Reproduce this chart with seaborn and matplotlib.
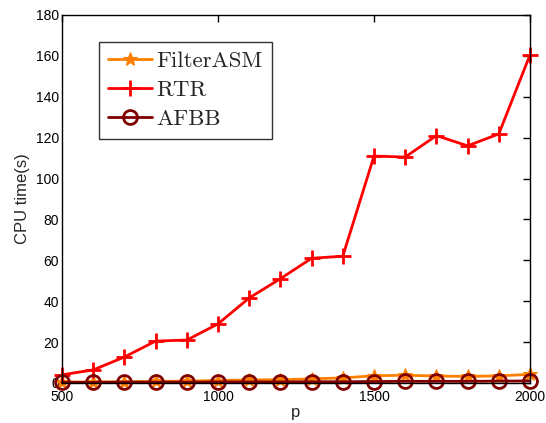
import numpy as np
import pandas as pd
import seaborn as sns
import matplotlib.pyplot as plt

# data
p = [500, 600, 700, 800, 900, 1000, 1100, 1200, 1300, 1400, 1500, 1600, 1700, 1800, 1900, 2000]
filter_asm = [0.5, 0.5, 0.6, 0.8, 0.9, 1.2, 1.5, 1.6, 2.0, 2.5, 3.5, 3.8, 3.4, 3.2, 3.5, 4.2]
rtr = [4.0, 6.4, 12.7, 20.5, 21.0, 28.9, 41.6, 51.0, 61.0, 62.0, 111.0, 110.5, 121.0, 116.0, 121.8, 160.5]
afbb = [0.3, 0.3, 0.4, 0.4, 0.4, 0.5, 0.5, 0.5, 0.6, 0.6, 0.7, 0.8, 0.8, 0.8, 0.9, 1.0]

sns.set_style("white")
plt.rcParams["font.family"] = ["Liberation Sans", "DejaVu Sans"]

fig = plt.figure(figsize=(5.46, 4.23), dpi=100)
ax = fig.add_axes([0.1136, 0.0946, 0.8571, 0.87])

sns.lineplot(x=p, y=filter_asm, ax=ax, color="#FF8000", marker="*", markersize=10,
             markeredgecolor="#FF8000", linestyle="-", linewidth=2, label="FilterASM",
             clip_on=False)
sns.lineplot(x=p, y=rtr, ax=ax, color="#FF0000", marker="+", markersize=12,
             markeredgecolor="#FF0000", markeredgewidth=2, linestyle="-", linewidth=2, label="RTR",
             clip_on=False)
sns.lineplot(x=p, y=afbb, ax=ax, color="#800000", marker="o", markersize=10,
             markerfacecolor="none", markeredgecolor="#800000", markeredgewidth=2,
             linestyle="-", linewidth=2, label="AFBB", clip_on=False)

ax.set_xlim(500, 2000)
ax.set_ylim(0, 180)
ax.set_xticks([500, 1000, 1500, 2000])
ax.set_yticks(range(0, 181, 20))
ax.tick_params(direction="in", top=True, right=True, length=5, width=1, labelsize=10, pad=2,
               colors="black")
ax.tick_params(axis="x", pad=5)
for s in ax.spines.values():
    s.set_color("black")
    s.set_linewidth(1)
ax.set_xlabel("p", fontsize=12, labelpad=1)
ax.set_ylabel("CPU time(s)", fontsize=12)

leg = ax.legend(loc="upper left", bbox_to_anchor=(0.079, 0.927), borderaxespad=0,
                prop={"family": "cmr10", "size": 16.5},
                frameon=True, fancybox=False, edgecolor="black", handlelength=1.9,
                borderpad=0.4, labelspacing=0.4, handletextpad=0.2)
leg.get_frame().set_linewidth(1)

fig.savefig("out.png", dpi=100)
